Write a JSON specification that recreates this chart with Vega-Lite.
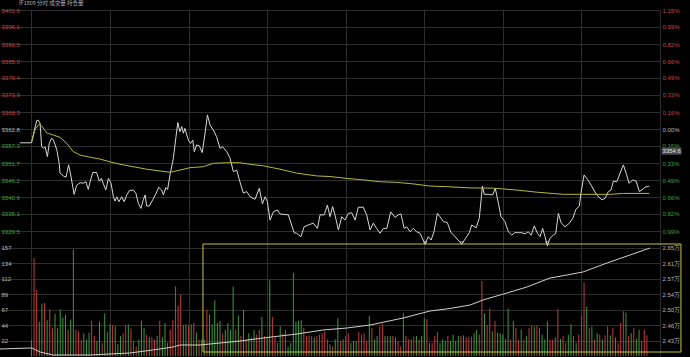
{
  "$schema": "https://vega.github.io/schema/vega-lite/v6.json",
  "width": 660,
  "height": 346,
  "padding": {"left": 0, "top": 10, "right": 30, "bottom": 1},
  "autosize": {"type": "none"},
  "background": "#000000",
  "config": {
    "view": {"stroke": null},
    "axis": {"labelFont": "Liberation Sans", "labelFontSize": 6, "ticks": false, "domain": false, "title": null, "gridColor": "#2e2e2e", "gridWidth": 1, "labelOverlap": false, "labelBound": false}
  },
  "title": {"text": "IF1809  分时  成交量  持仓量", "anchor": "start", "dx": 21, "fontSize": 5.5, "font": "Noto Sans CJK SC", "fontWeight": "normal", "color": "#b0b0b0", "offset": 0.5},
  "datasets": {
    "price": [
      {"t":-4.4,"p":3358.3},{"t":0,"p":3358.3},{"t":2.0,"p":3365.5},{"t":2.6,"p":3365.7},{"t":3.3,"p":3364.7},{"t":3.9,"p":3357.0},{"t":4.5,"p":3356.5},{"t":5.2,"p":3357.0},{"t":6.1,"p":3353.8},{"t":6.8,"p":3358.1},{"t":7.7,"p":3359.8},{"t":8.4,"p":3359.2},{"t":9.7,"p":3356.0},{"t":10.6,"p":3351.6},{"t":10.9,"p":3348.4},{"t":12.2,"p":3347.5},{"t":13.2,"p":3347.1},{"t":14.2,"p":3351.1},{"t":15.0,"p":3347.8},{"t":16.3,"p":3341.5},{"t":17.3,"p":3344.5},{"t":18.6,"p":3345.3},{"t":19.8,"p":3345.1},{"t":20.8,"p":3345.6},{"t":21.7,"p":3343.1},{"t":22.4,"p":3345.6},{"t":23.4,"p":3348.6},{"t":24.9,"p":3348.6},{"t":25.9,"p":3345.8},{"t":26.7,"p":3346.7},{"t":27.4,"p":3345.1},{"t":28.4,"p":3342.9},{"t":29.4,"p":3346.7},{"t":30.4,"p":3345.1},{"t":31.3,"p":3340.7},{"t":31.9,"p":3339.3},{"t":32.6,"p":3340.7},{"t":33.4,"p":3339.1},{"t":34.5,"p":3340.7},{"t":35.4,"p":3339.1},{"t":36.4,"p":3341.3},{"t":37.4,"p":3342.7},{"t":38.9,"p":3342.9},{"t":39.9,"p":3341.8},{"t":40.8,"p":3338.6},{"t":41.8,"p":3336.9},{"t":42.7,"p":3339.7},{"t":43.4,"p":3341.3},{"t":44.0,"p":3337.7},{"t":45.0,"p":3337.7},{"t":46.3,"p":3339.7},{"t":47.6,"p":3341.8},{"t":48.6,"p":3343.8},{"t":49.7,"p":3342.9},{"t":50.4,"p":3341.3},{"t":51.3,"p":3343.7},{"t":52.0,"p":3343.1},{"t":52.9,"p":3347.8},{"t":54.2,"p":3353.3},{"t":55.2,"p":3360.3},{"t":55.9,"p":3364.9},{"t":56.7,"p":3361.9},{"t":57.4,"p":3363.6},{"t":58.0,"p":3361.4},{"t":58.6,"p":3363.0},{"t":59.9,"p":3359.2},{"t":60.8,"p":3358.1},{"t":61.6,"p":3359.2},{"t":62.2,"p":3355.4},{"t":63.1,"p":3357.6},{"t":64.1,"p":3357.3},{"t":65.2,"p":3355.1},{"t":66.3,"p":3361.4},{"t":67.2,"p":3367.4},{"t":68.2,"p":3364.1},{"t":69.4,"p":3362.5},{"t":70.7,"p":3360.3},{"t":72.0,"p":3356.5},{"t":73.0,"p":3357.0},{"t":74.6,"p":3355.4},{"t":75.8,"p":3353.4},{"t":77.1,"p":3348.9},{"t":78.4,"p":3349.4},{"t":79.6,"p":3345.6},{"t":80.9,"p":3341.9},{"t":82.2,"p":3342.4},{"t":83.5,"p":3340.7},{"t":85.4,"p":3339.9},{"t":87.0,"p":3343.5},{"t":88.2,"p":3338.4},{"t":89.2,"p":3340.7},{"t":90.1,"p":3339.1},{"t":91.1,"p":3333.1},{"t":92.4,"p":3335.8},{"t":93.9,"p":3336.4},{"t":94.9,"p":3335.1},{"t":98.1,"p":3334.8},{"t":100.3,"p":3329.0},{"t":101.3,"p":3328.8},{"t":102.9,"p":3327.7},{"t":104.1,"p":3330.9},{"t":105.7,"p":3331.5},{"t":107.6,"p":3332.1},{"t":109.2,"p":3330.4},{"t":110.2,"p":3334.8},{"t":111.8,"p":3334.8},{"t":113.0,"p":3338.0},{"t":114.0,"p":3334.2},{"t":115.0,"p":3337.5},{"t":115.9,"p":3334.8},{"t":117.2,"p":3329.9},{"t":118.5,"p":3334.2},{"t":119.7,"p":3333.1},{"t":121.0,"p":3335.3},{"t":122.3,"p":3335.5},{"t":123.6,"p":3333.1},{"t":124.8,"p":3337.3},{"t":126.7,"p":3337.3},{"t":128.0,"p":3334.8},{"t":129.3,"p":3329.9},{"t":130.5,"p":3332.1},{"t":131.8,"p":3330.4},{"t":133.1,"p":3328.8},{"t":134.4,"p":3330.4},{"t":135.7,"p":3330.4},{"t":137.2,"p":3335.8},{"t":138.8,"p":3334.0},{"t":140.1,"p":3334.8},{"t":141.1,"p":3335.1},{"t":142.3,"p":3330.4},{"t":143.3,"p":3330.9},{"t":144.6,"p":3329.3},{"t":145.8,"p":3330.4},{"t":147.1,"p":3329.3},{"t":148.4,"p":3328.8},{"t":150.3,"p":3325.3},{"t":151.5,"p":3327.7},{"t":152.6,"p":3326.6},{"t":153.7,"p":3329.3},{"t":155.0,"p":3335.3},{"t":156.0,"p":3334.2},{"t":157.3,"p":3332.6},{"t":158.8,"p":3332.3},{"t":160.1,"p":3329.2},{"t":161.7,"p":3327.7},{"t":164.3,"p":3325.3},{"t":166.2,"p":3327.7},{"t":167.2,"p":3329.0},{"t":168.1,"p":3331.5},{"t":169.8,"p":3330.6},{"t":171.0,"p":3333.7},{"t":172.2,"p":3344.2},{"t":172.9,"p":3341.5},{"t":174.5,"p":3341.5},{"t":176.1,"p":3341.3},{"t":177.1,"p":3343.5},{"t":178.3,"p":3338.6},{"t":179.3,"p":3334.2},{"t":180.8,"p":3332.6},{"t":182.1,"p":3329.3},{"t":183.4,"p":3328.2},{"t":184.6,"p":3329.0},{"t":185.9,"p":3329.0},{"t":187.2,"p":3329.0},{"t":188.5,"p":3328.6},{"t":189.7,"p":3329.3},{"t":190.8,"p":3328.2},{"t":192.0,"p":3331.2},{"t":193.2,"p":3328.8},{"t":194.2,"p":3327.7},{"t":195.2,"p":3330.4},{"t":196.1,"p":3327.7},{"t":197.0,"p":3324.7},{"t":198.0,"p":3327.2},{"t":199.3,"p":3328.2},{"t":200.2,"p":3328.8},{"t":201.2,"p":3335.3},{"t":202.2,"p":3332.3},{"t":203.7,"p":3330.9},{"t":205.4,"p":3332.1},{"t":206.7,"p":3333.7},{"t":207.9,"p":3336.6},{"t":209.2,"p":3337.7},{"t":209.8,"p":3341.8},{"t":211.0,"p":3347.8},{"t":212.3,"p":3346.4},{"t":213.9,"p":3344.2},{"t":215.8,"p":3341.3},{"t":217.8,"p":3339.7},{"t":219.0,"p":3340.2},{"t":220.3,"p":3342.4},{"t":221.3,"p":3342.9},{"t":222.2,"p":3345.8},{"t":223.5,"p":3345.6},{"t":224.5,"p":3347.8},{"t":226.0,"p":3351.1},{"t":227.0,"p":3348.6},{"t":228.2,"p":3345.1},{"t":229.6,"p":3346.2},{"t":230.9,"p":3345.8},{"t":232.1,"p":3342.4},{"t":233.0,"p":3342.9},{"t":234.3,"p":3343.8},{"t":235.9,"p":3344.2}
    ],
    "avg": [
      {"t":0,"p":3358.3},{"t":1.4,"p":3362.7},{"t":3.0,"p":3364.4},{"t":3.9,"p":3363.8},{"t":5.8,"p":3361.6},{"t":8.4,"p":3360.8},{"t":10.9,"p":3360.1},{"t":13.5,"p":3358.1},{"t":16.0,"p":3355.4},{"t":18.6,"p":3354.3},{"t":22.4,"p":3353.6},{"t":26.2,"p":3353.0},{"t":30.0,"p":3352.1},{"t":33.8,"p":3351.3},{"t":38.9,"p":3350.5},{"t":44.0,"p":3349.7},{"t":49.1,"p":3349.1},{"t":52.9,"p":3348.7},{"t":56.7,"p":3349.4},{"t":60.6,"p":3350.2},{"t":65.6,"p":3350.5},{"t":69.4,"p":3351.6},{"t":74.6,"p":3351.8},{"t":79.6,"p":3351.8},{"t":83.5,"p":3351.3},{"t":88.5,"p":3350.8},{"t":94.9,"p":3349.7},{"t":101.3,"p":3348.4},{"t":108.9,"p":3347.5},{"t":114.0,"p":3347.3},{"t":120.4,"p":3346.7},{"t":126.7,"p":3346.2},{"t":133.1,"p":3345.6},{"t":139.5,"p":3345.4},{"t":145.8,"p":3344.9},{"t":152.2,"p":3344.2},{"t":158.6,"p":3344.0},{"t":167.5,"p":3343.6},{"t":176.4,"p":3343.5},{"t":185.3,"p":3342.9},{"t":192.9,"p":3342.2},{"t":203.1,"p":3341.5},{"t":210.7,"p":3341.5},{"t":220.9,"p":3341.5},{"t":226.0,"p":3341.8},{"t":235.9,"p":3341.8}
    ],
    "oi": [
      {"t":-12,"oi":24130},{"t":0.2,"oi":24154},{"t":3.3,"oi":24058},{"t":8.2,"oi":23987},{"t":22.4,"oi":23987},{"t":37.6,"oi":24035},{"t":46.4,"oi":24106},{"t":54.1,"oi":24177},{"t":56.7,"oi":24225},{"t":64.4,"oi":24225},{"t":72.0,"oi":24272},{"t":75.8,"oi":24296},{"t":79.6,"oi":24320},{"t":88.4,"oi":24391},{"t":101.4,"oi":24486},{"t":111.3,"oi":24581},{"t":120.5,"oi":24629},{"t":129.3,"oi":24700},{"t":141.9,"oi":24866},{"t":152.2,"oi":25033},{"t":159.8,"oi":25092},{"t":167.5,"oi":25175},{"t":172.4,"oi":25294},{"t":181.6,"oi":25461},{"t":189.2,"oi":25603},{"t":198.0,"oi":25817},{"t":204.5,"oi":25888},{"t":210.6,"oi":25960},{"t":219.8,"oi":26174},{"t":228.6,"oi":26364},{"t":236.2,"oi":26530}
    ],
    "vol": [
      {"t":0,"v":23,"d":"g"},{"t":1,"v":142,"d":"r"},{"t":2,"v":96,"d":"r"},{"t":3,"v":50,"d":"g"},{"t":4,"v":76,"d":"g"},{"t":5,"v":77,"d":"r"},{"t":6,"v":52,"d":"g"},{"t":7,"v":68,"d":"r"},{"t":8,"v":41,"d":"r"},{"t":9,"v":61,"d":"g"},{"t":10,"v":41,"d":"g"},{"t":11,"v":68,"d":"g"},{"t":12,"v":56,"d":"g"},{"t":13,"v":60,"d":"g"},{"t":14,"v":38,"d":"r"},{"t":15,"v":53,"d":"g"},{"t":16,"v":155,"d":"g"},{"t":17,"v":38,"d":"r"},{"t":18,"v":36,"d":"r"},{"t":19,"v":23,"d":"r"},{"t":20,"v":33,"d":"g"},{"t":21,"v":24,"d":"g"},{"t":22,"v":34,"d":"g"},{"t":23,"v":51,"d":"r"},{"t":24,"v":29,"d":"r"},{"t":25,"v":22,"d":"g"},{"t":26,"v":50,"d":"g"},{"t":27,"v":19,"d":"r"},{"t":28,"v":62,"d":"g"},{"t":29,"v":35,"d":"r"},{"t":30,"v":46,"d":"g"},{"t":31,"v":45,"d":"r"},{"t":32,"v":43,"d":"g"},{"t":33,"v":17,"d":"g"},{"t":34,"v":29,"d":"g"},{"t":35,"v":33,"d":"r"},{"t":36,"v":45,"d":"r"},{"t":37,"v":46,"d":"g"},{"t":38,"v":40,"d":"r"},{"t":39,"v":22,"d":"r"},{"t":40,"v":14,"d":"r"},{"t":41,"v":24,"d":"g"},{"t":42,"v":51,"d":"g"},{"t":43,"v":41,"d":"g"},{"t":44,"v":31,"d":"r"},{"t":45,"v":27,"d":"g"},{"t":46,"v":27,"d":"r"},{"t":47,"v":24,"d":"r"},{"t":48,"v":29,"d":"g"},{"t":49,"v":51,"d":"r"},{"t":50,"v":27,"d":"g"},{"t":51,"v":48,"d":"g"},{"t":52,"v":19,"d":"g"},{"t":53,"v":38,"d":"r"},{"t":54,"v":52,"d":"r"},{"t":55,"v":101,"d":"r"},{"t":56,"v":73,"d":"r"},{"t":57,"v":89,"d":"r"},{"t":58,"v":45,"d":"g"},{"t":59,"v":46,"d":"g"},{"t":60,"v":45,"d":"r"},{"t":61,"v":46,"d":"g"},{"t":62,"v":48,"d":"r"},{"t":63,"v":34,"d":"g"},{"t":64,"v":24,"d":"r"},{"t":65,"v":24,"d":"r"},{"t":66,"v":24,"d":"g"},{"t":67,"v":67,"d":"r"},{"t":68,"v":60,"d":"g"},{"t":69,"v":46,"d":"g"},{"t":70,"v":81,"d":"g"},{"t":71,"v":48,"d":"g"},{"t":72,"v":51,"d":"g"},{"t":73,"v":33,"d":"r"},{"t":74,"v":38,"d":"g"},{"t":75,"v":48,"d":"g"},{"t":76,"v":38,"d":"g"},{"t":77,"v":101,"d":"g"},{"t":78,"v":38,"d":"r"},{"t":79,"v":59,"d":"g"},{"t":80,"v":29,"d":"r"},{"t":81,"v":67,"d":"g"},{"t":82,"v":24,"d":"r"},{"t":83,"v":33,"d":"g"},{"t":84,"v":27,"d":"r"},{"t":85,"v":38,"d":"g"},{"t":86,"v":31,"d":"r"},{"t":87,"v":38,"d":"r"},{"t":88,"v":57,"d":"g"},{"t":89,"v":29,"d":"r"},{"t":90,"v":27,"d":"g"},{"t":91,"v":110,"d":"g"},{"t":92,"v":57,"d":"r"},{"t":93,"v":27,"d":"r"},{"t":94,"v":19,"d":"r"},{"t":95,"v":43,"d":"g"},{"t":96,"v":33,"d":"r"},{"t":97,"v":38,"d":"r"},{"t":98,"v":14,"d":"g"},{"t":99,"v":19,"d":"g"},{"t":100,"v":121,"d":"g"},{"t":101,"v":50,"d":"g"},{"t":102,"v":51,"d":"g"},{"t":103,"v":52,"d":"g"},{"t":104,"v":41,"d":"r"},{"t":105,"v":29,"d":"r"},{"t":106,"v":30,"d":"r"},{"t":107,"v":29,"d":"r"},{"t":108,"v":27,"d":"g"},{"t":109,"v":29,"d":"r"},{"t":110,"v":31,"d":"r"},{"t":111,"v":33,"d":"r"},{"t":112,"v":36,"d":"r"},{"t":113,"v":24,"d":"r"},{"t":114,"v":17,"d":"g"},{"t":115,"v":14,"d":"r"},{"t":116,"v":24,"d":"g"},{"t":117,"v":55,"d":"g"},{"t":118,"v":22,"d":"r"},{"t":119,"v":24,"d":"g"},{"t":120,"v":29,"d":"r"},{"t":121,"v":33,"d":"r"},{"t":122,"v":19,"d":"g"},{"t":123,"v":22,"d":"g"},{"t":124,"v":22,"d":"g"},{"t":125,"v":35,"d":"r"},{"t":126,"v":31,"d":"r"},{"t":127,"v":33,"d":"r"},{"t":128,"v":22,"d":"r"},{"t":129,"v":58,"d":"g"},{"t":130,"v":41,"d":"r"},{"t":131,"v":24,"d":"g"},{"t":132,"v":29,"d":"g"},{"t":133,"v":43,"d":"r"},{"t":134,"v":46,"d":"r"},{"t":135,"v":29,"d":"g"},{"t":136,"v":29,"d":"r"},{"t":137,"v":29,"d":"g"},{"t":138,"v":29,"d":"r"},{"t":139,"v":27,"d":"g"},{"t":140,"v":22,"d":"r"},{"t":141,"v":14,"d":"r"},{"t":142,"v":62,"d":"g"},{"t":143,"v":29,"d":"r"},{"t":144,"v":24,"d":"r"},{"t":145,"v":24,"d":"g"},{"t":146,"v":28,"d":"r"},{"t":147,"v":29,"d":"g"},{"t":148,"v":24,"d":"r"},{"t":149,"v":29,"d":"g"},{"t":150,"v":55,"d":"g"},{"t":151,"v":54,"d":"r"},{"t":152,"v":19,"d":"g"},{"t":153,"v":19,"d":"r"},{"t":154,"v":29,"d":"r"},{"t":155,"v":35,"d":"r"},{"t":156,"v":19,"d":"g"},{"t":157,"v":24,"d":"g"},{"t":158,"v":22,"d":"g"},{"t":159,"v":29,"d":"r"},{"t":160,"v":22,"d":"g"},{"t":161,"v":31,"d":"g"},{"t":162,"v":22,"d":"g"},{"t":163,"v":29,"d":"g"},{"t":164,"v":29,"d":"r"},{"t":165,"v":30,"d":"g"},{"t":166,"v":27,"d":"r"},{"t":167,"v":27,"d":"r"},{"t":168,"v":28,"d":"r"},{"t":169,"v":33,"d":"g"},{"t":170,"v":38,"d":"g"},{"t":171,"v":31,"d":"r"},{"t":172,"v":109,"d":"r"},{"t":173,"v":62,"d":"g"},{"t":174,"v":45,"d":"r"},{"t":175,"v":69,"d":"r"},{"t":176,"v":36,"d":"g"},{"t":177,"v":51,"d":"r"},{"t":178,"v":34,"d":"g"},{"t":179,"v":33,"d":"g"},{"t":180,"v":31,"d":"g"},{"t":181,"v":25,"d":"r"},{"t":182,"v":69,"d":"g"},{"t":183,"v":24,"d":"r"},{"t":184,"v":51,"d":"g"},{"t":185,"v":41,"d":"r"},{"t":186,"v":23,"d":"r"},{"t":187,"v":38,"d":"g"},{"t":188,"v":24,"d":"r"},{"t":189,"v":29,"d":"g"},{"t":190,"v":41,"d":"r"},{"t":191,"v":45,"d":"r"},{"t":192,"v":43,"d":"g"},{"t":193,"v":45,"d":"r"},{"t":194,"v":41,"d":"r"},{"t":195,"v":31,"d":"g"},{"t":196,"v":24,"d":"g"},{"t":197,"v":50,"d":"g"},{"t":198,"v":24,"d":"r"},{"t":199,"v":24,"d":"r"},{"t":200,"v":27,"d":"g"},{"t":201,"v":68,"d":"r"},{"t":202,"v":25,"d":"g"},{"t":203,"v":29,"d":"r"},{"t":204,"v":19,"d":"r"},{"t":205,"v":31,"d":"g"},{"t":206,"v":46,"d":"g"},{"t":207,"v":29,"d":"r"},{"t":208,"v":19,"d":"g"},{"t":209,"v":31,"d":"r"},{"t":210,"v":58,"d":"r"},{"t":211,"v":107,"d":"r"},{"t":212,"v":72,"d":"g"},{"t":213,"v":41,"d":"r"},{"t":214,"v":43,"d":"g"},{"t":215,"v":24,"d":"r"},{"t":216,"v":33,"d":"g"},{"t":217,"v":31,"d":"r"},{"t":218,"v":24,"d":"g"},{"t":219,"v":30,"d":"r"},{"t":220,"v":43,"d":"r"},{"t":221,"v":30,"d":"g"},{"t":222,"v":41,"d":"r"},{"t":223,"v":27,"d":"g"},{"t":224,"v":19,"d":"r"},{"t":225,"v":48,"d":"r"},{"t":226,"v":65,"d":"r"},{"t":227,"v":63,"d":"g"},{"t":228,"v":29,"d":"r"},{"t":229,"v":33,"d":"g"},{"t":230,"v":41,"d":"r"},{"t":231,"v":25,"d":"g"},{"t":232,"v":38,"d":"g"},{"t":233,"v":22,"d":"r"},{"t":234,"v":38,"d":"r"},{"t":235,"v":30,"d":"r"}
    ],
    "lows": [{"t":150.3,"p":3325.6},{"t":164.3,"p":3325.6},{"t":196.9,"p":3325.6}],
    "tag": [{"t":240.6,"t2":248.2,"p":3356.8,"p2":3354.4,"pt":3355.6,"label":"3354.6"}],
    "box": [{"t":65.5,"t2":248,"v":162.8,"v2":5.8}]
  },
  "encoding": {
    "x": {"field": "t", "type": "quantitative", "scale": {"domain": [-12, 240], "nice": false, "zero": false}, "axis": {"values": [0, 30, 60, 90, 120, 150, 180, 210, 240], "labels": false, "grid": true, "title": null}}
  },
  "layer": [
    {
      "data": {"name": "price"},
      "mark": {"type": "line", "color": "#d8d8d8", "strokeWidth": 1},
      "encoding": {
        "y": {"field": "p", "type": "quantitative", "scale": {"domain": [3288.79, 3401.6], "nice": false, "zero": false},
          "axis": {"orient": "left", "values": [3401.6, 3396.06, 3390.51, 3384.97, 3379.43, 3373.89, 3368.34, 3362.8, 3357.26, 3351.71, 3346.17, 3340.63, 3335.09, 3329.54], "grid": true, "labelOverlap": false, "labelAlign": "left", "labelPadding": -1, "labelExpr": "format(datum.value, '.1f')", "labelColor": {"expr": "datum.value > 3363 ? '#c84444' : (datum.value < 3362 ? '#3aa83a' : '#b8b8b8')"}}}
      }
    },
    {
      "data": {"name": "avg"},
      "mark": {"type": "line", "color": "#b8b83a", "strokeWidth": 1},
      "encoding": {
        "y": {"field": "p", "type": "quantitative", "scale": {"domain": [3288.79, 3401.6], "nice": false, "zero": false},
          "axis": {"orient": "right", "values": [3401.6, 3396.06, 3390.51, 3384.97, 3379.43, 3373.89, 3368.34, 3362.8, 3357.26, 3351.71, 3346.17, 3340.63, 3335.09, 3329.54], "grid": false, "labelOverlap": false, "labelPadding": 2, "labelExpr": "format(abs(datum.value / 3362.8 - 1) * 100, '.2f') + '%'", "labelColor": {"expr": "datum.value > 3363 ? '#c84444' : (datum.value < 3362 ? '#3aa83a' : '#b8b8b8')"}}}
      }
    },
    {
      "layer": [
        {
          "data": {"name": "lows"},
          "mark": {"type": "point", "shape": "triangle-down", "filled": false, "color": "#cccccc", "size": 10, "strokeWidth": 1},
          "encoding": {"y": {"field": "p", "type": "quantitative", "scale": {"domain": [3288.79, 3401.6], "nice": false, "zero": false}, "axis": null}}
        },
        {
          "data": {"name": "tag"},
          "mark": {"type": "rect", "color": "#4a4a4a"},
          "encoding": {"x2": {"field": "t2"}, "y": {"field": "p", "type": "quantitative", "axis": null}, "y2": {"field": "p2"}}
        },
        {
          "data": {"name": "tag"},
          "mark": {"type": "text", "align": "left", "dx": 1, "fontSize": 6, "font": "Liberation Sans", "color": "#e0e0e0"},
          "encoding": {"y": {"field": "pt", "type": "quantitative", "axis": null}, "text": {"field": "label"}}
        }
      ]
    },
    {
      "layer": [
        {
          "data": {"name": "vol"},
          "mark": {"type": "rule", "strokeWidth": 1},
          "encoding": {
            "y": {"field": "v", "type": "quantitative", "scale": {"domain": [0, 502.98], "nice": false, "zero": false},
              "axis": {"orient": "left", "values": [157, 134.571, 112.143, 89.714, 67.286, 44.857, 22.429], "grid": true, "labelOverlap": false, "labelAlign": "left", "labelPadding": -1, "labelExpr": "floor(datum.value)", "labelColor": "#b8b8b8"}},
            "y2": {"datum": 0},
            "color": {"field": "d", "type": "nominal", "scale": {"domain": ["r", "g"], "range": ["#c43c3c", "#3c9c3c"]}, "legend": null}
          }
        },
        {
          "data": {"name": "box"},
          "mark": {"type": "rect", "filled": false, "stroke": "#c4c43c", "strokeWidth": 1},
          "encoding": {"x2": {"field": "t2"}, "y": {"field": "v", "type": "quantitative"}, "y2": {"field": "v2"}}
        }
      ]
    },
    {
      "data": {"name": "oi"},
      "mark": {"type": "line", "color": "#d0d0d0", "strokeWidth": 1},
      "encoding": {
        "y": {"field": "oi", "type": "quantitative", "scale": {"domain": [23963.3, 32186.1], "nice": false, "zero": false},
          "axis": {"orient": "right", "values": [26530, 26163.3, 25796.7, 25430, 25063.3, 24696.7, 24330], "grid": false, "labelOverlap": false, "labelPadding": 2, "labelExpr": "format(floor(datum.value / 100 + 0.000001) / 100, '.2f') + '万'", "labelColor": "#b8b8b8"}}
      }
    }
  ],
  "resolve": {"scale": {"y": "independent"}, "axis": {"y": "independent"}}
}
